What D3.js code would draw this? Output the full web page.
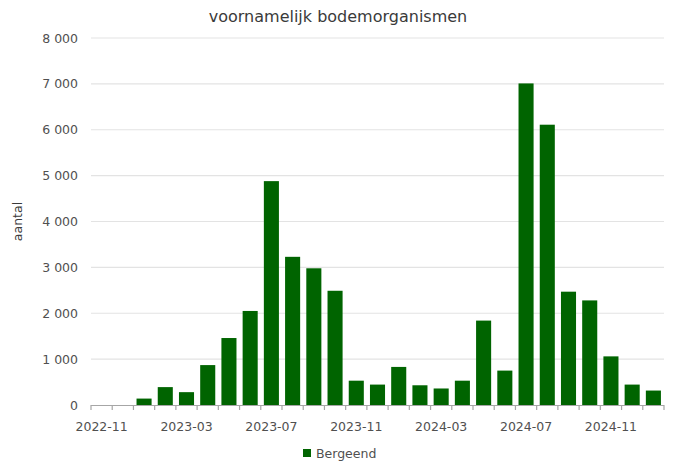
<!DOCTYPE html>
<html>
<head>
<meta charset="utf-8">
<script src="https://cdn.jsdelivr.net/npm/d3@7"></script>
<style>
  body { margin: 0; background: #fff; }
  text { font-family: "DejaVu Sans", sans-serif; }
</style>
</head>
<body>
<script>
// Months shown on the x axis
const months = ["2022-11","2022-12","2023-01","2023-02","2023-03","2023-04","2023-05","2023-06",
  "2023-07","2023-08","2023-09","2023-10","2023-11","2023-12","2024-01","2024-02","2024-03",
  "2024-04","2024-05","2024-06","2024-07","2024-08","2024-09","2024-10","2024-11","2024-12","2025-01"];
// Bergeend counts
const bergeend = [0,0,140,390,280,870,1460,2050,4880,3230,2980,2490,530,445,830,430,360,
  530,1840,750,7010,6110,2470,2280,1060,445,315];
// Tick labels
const xLabels = ["2022-11","2023-03","2023-07","2023-11","2024-03","2024-07","2024-11"];
const yTicks = [0,1000,2000,3000,4000,5000,6000,7000,8000];

const W = 673, H = 464;
const mLeft = 91, mRight = 664, mTop = 38, mBottom = 405;

const svg = d3.select("body").append("svg")
  .attr("width", W).attr("height", H);

// scales
const x = d3.scaleBand().domain(months).range([mLeft, mRight])
  .paddingInner(0.29).paddingOuter(0.145);
const y = d3.scaleLinear().domain([0, 8000]).range([mBottom, mTop]);

// gridlines
svg.append("g").selectAll("line")
  .data(yTicks.filter(d => d > 0))
  .enter().append("line")
  .attr("x1", mLeft).attr("x2", mRight)
  .attr("y1", d => y(d)).attr("y2", d => y(d))
  .attr("stroke", "#e3e3e3").attr("stroke-width", 1.2);

// y axis labels
const yAxis = d3.axisLeft(y).tickValues(yTicks).tickSize(0).tickPadding(13)
  .tickFormat(d => d === 0 ? "0" : d3.format(",")(d).replace(",", " "));
svg.append("g")
  .attr("transform", "translate(" + mLeft + ",0)")
  .call(yAxis)
  .call(g => g.select(".domain").remove())
  .selectAll("text")
  .attr("fill", "#505050").style("font-size", "12.5px");

// bars
svg.append("g").selectAll("rect")
  .data(bergeend)
  .enter().append("rect")
  .attr("x", (d, i) => x(months[i]))
  .attr("y", d => y(d))
  .attr("width", x.bandwidth())
  .attr("height", d => mBottom - y(d))
  .attr("fill", "#006400");

// x axis line and boundary ticks
const step = x.step();
const xg = svg.append("g");
xg.append("line")
  .attr("x1", mLeft).attr("x2", mRight)
  .attr("y1", mBottom + 0.5).attr("y2", mBottom + 0.5)
  .attr("stroke", "#a6a6a6").attr("stroke-width", 1.2);
xg.selectAll("line.tick")
  .data(months.concat(["end"]))
  .enter().append("line")
  .attr("class", "tick")
  .attr("x1", (d, i) => mLeft + i * step).attr("x2", (d, i) => mLeft + i * step)
  .attr("y1", mBottom).attr("y2", mBottom + 5)
  .attr("stroke", "#a6a6a6").attr("stroke-width", 1.2);

// x axis labels
const xAxis = d3.axisBottom(x).tickValues(xLabels).tickSize(0).tickPadding(17);
svg.append("g")
  .attr("transform", "translate(0," + mBottom + ")")
  .call(xAxis)
  .call(g => g.select(".domain").remove())
  .selectAll("text")
  .attr("fill", "#505050").style("font-size", "12.5px");

// title
svg.append("text")
  .attr("x", 338).attr("y", 22)
  .attr("text-anchor", "middle")
  .attr("fill", "#3a3a3a")
  .style("font-size", "16px")
  .text("voornamelijk bodemorganismen");

// y axis title
svg.append("text")
  .attr("transform", "translate(22," + ((mTop + mBottom) / 2) + ") rotate(-90)")
  .attr("text-anchor", "middle")
  .attr("fill", "#3a3a3a")
  .style("font-size", "12.5px")
  .text("aantal");

// legend
const lg = svg.append("g").attr("transform", "translate(303,449)");
lg.append("rect").attr("width", 8).attr("height", 8).attr("fill", "#006400");
lg.append("text").attr("x", 13).attr("y", 9)
  .attr("fill", "#505050").style("font-size", "12.5px")
  .text("Bergeend");
</script>
</body>
</html>
